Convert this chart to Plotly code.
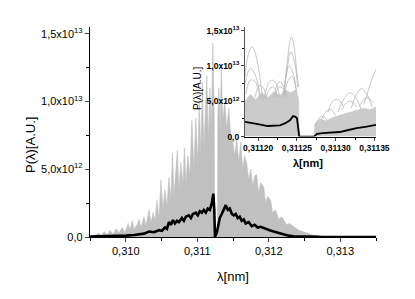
import plotly.graph_objects as go

# ---------------- main panel data (P in units of 1e13) ----------------
env_lam = [0.309488, 0.309558, 0.309628, 0.309656, 0.309697, 0.309739, 0.309781, 0.309823,
           0.309865, 0.309907, 0.309948, 0.309990, 0.310032, 0.310060, 0.310088, 0.310116,
           0.310158, 0.310185, 0.310213, 0.310255, 0.310283, 0.310325, 0.310353, 0.310381,
           0.310409, 0.310437, 0.310464, 0.310492, 0.310520, 0.310548, 0.310576, 0.310604,
           0.310632, 0.310653, 0.310674, 0.310702, 0.310722, 0.310743, 0.310771, 0.310799,
           0.310820, 0.310841, 0.310869, 0.310897, 0.310925, 0.310953, 0.310980, 0.311008,
           0.311029, 0.311050, 0.311071, 0.311092, 0.311113, 0.311134, 0.311155, 0.311176,
           0.311197, 0.311218, 0.311238, 0.311241, 0.311284, 0.311288, 0.311301, 0.311322,
           0.311336, 0.311357, 0.311385, 0.311413, 0.311441, 0.311469, 0.311497, 0.311524,
           0.311552, 0.311580, 0.311608, 0.311636, 0.311664, 0.311692, 0.311720, 0.311748,
           0.311776, 0.311803, 0.311831, 0.311859, 0.311887, 0.311929, 0.311957, 0.311985,
           0.312026, 0.312054, 0.312096, 0.312138, 0.312180, 0.312208, 0.312250, 0.312291,
           0.312347, 0.312417, 0.312473, 0.312529, 0.312612, 0.312696, 0.312766, 0.312835,
           0.313500]
env_val = [0.0, 0.01, 0.03, 0.01, 0.04, 0.015, 0.05, 0.02,
           0.06, 0.03, 0.07, 0.03, 0.10, 0.05, 0.12, 0.06,
           0.09, 0.13, 0.07, 0.15, 0.08, 0.20, 0.10, 0.18,
           0.12, 0.27, 0.14, 0.42, 0.20, 0.35, 0.22, 0.44,
           0.28, 0.62, 0.30, 0.50, 0.64, 0.35, 0.55, 0.38,
           0.66, 0.40, 0.60, 0.45, 0.86, 0.50, 0.88, 0.55,
           0.99, 0.60, 1.14, 0.65, 0.91, 1.19, 0.70, 1.10,
           0.80, 1.43, 0.90, 0.0, 0.0, 0.90, 1.10, 0.80,
           1.27, 0.85, 1.00, 0.80, 0.95, 0.75, 0.70, 0.60,
           0.72, 0.55, 0.70, 0.50, 0.60, 0.54, 0.42, 0.50,
           0.38, 0.45, 0.46, 0.32, 0.40, 0.37, 0.25, 0.30,
           0.27, 0.18, 0.20, 0.13, 0.15, 0.125, 0.09, 0.10,
           0.076, 0.05, 0.04, 0.03, 0.015, 0.01, 0.003, 0.0,
           0.0]

mean_lam = [0.309488, 0.309628, 0.309767, 0.309907, 0.310004, 0.310116, 0.310185, 0.310255,
            0.310325, 0.310395, 0.310464, 0.310506, 0.310548, 0.310576, 0.310604, 0.310632,
            0.310660, 0.310688, 0.310715, 0.310743, 0.310785, 0.310813, 0.310841, 0.310883,
            0.310911, 0.310939, 0.310980, 0.311008, 0.311036, 0.311064, 0.311092, 0.311120,
            0.311148, 0.311176, 0.311204, 0.311225, 0.311238, 0.311248, 0.311273, 0.311294,
            0.311315, 0.311343, 0.311371, 0.311399, 0.311427, 0.311455, 0.311483, 0.311510,
            0.311538, 0.311566, 0.311594, 0.311622, 0.311650, 0.311678, 0.311720, 0.311762,
            0.311803, 0.311845, 0.311887, 0.311929, 0.311971, 0.312012, 0.312068, 0.312138,
            0.312208, 0.312278, 0.312347, 0.312487, 0.312696, 0.313500]
mean_val = [0.003, 0.004, 0.006, 0.008, 0.010, 0.015, 0.020, 0.025,
            0.040, 0.035, 0.050, 0.045, 0.070, 0.060, 0.110, 0.090,
            0.125, 0.100, 0.120, 0.110, 0.140, 0.120, 0.150, 0.160,
            0.140, 0.170, 0.180, 0.160, 0.190, 0.180, 0.200, 0.180,
            0.210, 0.200, 0.250, 0.320, 0.200, 0.0, 0.030, 0.100,
            0.140, 0.170, 0.200, 0.235, 0.200, 0.210, 0.170, 0.160,
            0.170, 0.140, 0.150, 0.120, 0.130, 0.100, 0.110, 0.080,
            0.090, 0.070, 0.075, 0.065, 0.060, 0.050, 0.040, 0.030,
            0.018, 0.010, 0.006, 0.003, 0.001, 0.0]

# ---------------- inset data ----------------
in_env_lam = [0.311183, 0.311190, 0.311197, 0.311205, 0.311212, 0.311220, 0.311228, 0.311235,
              0.311242, 0.311248, 0.311252, 0.311253, 0.311272, 0.311273, 0.311280, 0.311288,
              0.311296, 0.311305, 0.311313, 0.311320, 0.311328, 0.311336, 0.311344, 0.311352]
in_env_val = [0.50, 0.60, 0.52, 0.62, 0.55, 0.63, 0.58, 0.66,
              0.62, 0.66, 0.55, 0.0, 0.0, 0.18, 0.25, 0.22,
              0.27, 0.30, 0.33, 0.35, 0.37, 0.40, 0.38, 0.42]

arcs = [
    ([0.311183, 0.311187, 0.311192, 0.311197, 0.311202, 0.311206], [0.85, 1.15, 1.27, 1.15, 0.85, 0.50]),
    ([0.311183, 0.311190, 0.311197, 0.311203], [0.75, 0.97, 0.85, 0.55]),
    ([0.311184, 0.311190, 0.311196, 0.311202], [0.60, 0.80, 0.78, 0.55]),
    ([0.311196, 0.311201, 0.311206, 0.311211], [0.55, 0.72, 0.70, 0.52]),
    ([0.311208, 0.311213, 0.311218, 0.311223, 0.311228], [0.55, 0.75, 0.80, 0.75, 0.55]),
    ([0.311210, 0.311215, 0.311220, 0.311225], [0.55, 0.68, 0.70, 0.56]),
    ([0.311220, 0.311224, 0.311228, 0.311232, 0.311236], [0.55, 0.72, 0.78, 0.72, 0.55]),
    ([0.311222, 0.311227, 0.311232, 0.311237], [0.60, 0.70, 0.68, 0.58]),
    ([0.311234, 0.311238, 0.311241, 0.311243, 0.311246, 0.311249, 0.311252], [0.70, 1.10, 1.35, 1.41, 1.30, 1.00, 0.70]),
    ([0.311233, 0.311238, 0.311242, 0.311247, 0.311251], [0.60, 1.00, 1.20, 1.05, 0.70]),
    ([0.311232, 0.311236, 0.311240, 0.311245, 0.311250], [0.55, 0.85, 1.00, 0.90, 0.60]),
    ([0.311234, 0.311239, 0.311244, 0.311249], [0.60, 0.80, 0.85, 0.65]),
    ([0.311274, 0.311279, 0.311284, 0.311290], [0.15, 0.27, 0.28, 0.22]),
    ([0.311282, 0.311288, 0.311294, 0.311300], [0.25, 0.36, 0.38, 0.30]),
    ([0.311290, 0.311296, 0.311302, 0.311310], [0.35, 0.50, 0.53, 0.42]),
    ([0.311303, 0.311310, 0.311318, 0.311326, 0.311333], [0.35, 0.52, 0.62, 0.55, 0.38]),
    ([0.311308, 0.311314, 0.311320, 0.311327], [0.38, 0.48, 0.50, 0.42]),
    ([0.311320, 0.311327, 0.311333, 0.311340, 0.311347], [0.40, 0.60, 0.68, 0.60, 0.42]),
    ([0.311330, 0.311336, 0.311342, 0.311348], [0.42, 0.52, 0.55, 0.48]),
    ([0.311336, 0.311342, 0.311347, 0.311352], [0.45, 0.65, 0.82, 0.95]),
]

in_mean_lam = [0.311183, 0.311189, 0.311194, 0.311203, 0.311212, 0.311220, 0.311228, 0.311235,
               0.311241, 0.311245, 0.311248, 0.311250, 0.311252, 0.311253, 0.311272, 0.311276,
               0.311283, 0.311295, 0.311305, 0.311315, 0.311327, 0.311340, 0.311352]
in_mean_val = [0.21, 0.20, 0.19, 0.17, 0.15, 0.155, 0.16, 0.19,
               0.23, 0.29, 0.28, 0.26, 0.10, 0.0, 0.0, 0.04,
               0.05, 0.06, 0.065, 0.09, 0.12, 0.14, 0.165]

# ticks
main_xticks = [0.310, 0.311, 0.312, 0.313]
main_xticktext = ["0,310", "0,311", "0,312", "0,313"]
main_xminor = [0.3095, 0.3105, 0.3115, 0.3125, 0.3135]
yticks = [0, 0.5, 1.0, 1.5]
yticktext = ["0,0", "5,0x10<sup>12</sup>", "1,0x10<sup>13</sup>", "1,5x10<sup>13</sup>"]
yminor = [0.25, 0.75, 1.25]
in_xticks = [0.31120, 0.31125, 0.31130, 0.31135]
in_xticktext = ["0,31120", "0,31125", "0,31130", "0,31135"]
in_xminor = [0.311225, 0.311275, 0.311325]

main_xrange = [0.3095, 0.3135]
yrange = [0, 1.55]
in_xrange = [0.311183, 0.311352]

GREY = "#c0c0c0"
fig = go.Figure()
fig.add_trace(go.Scatter(x=env_lam, y=env_val, mode="lines", line=dict(width=0.6, color=GREY),
                         fill="tozeroy", fillcolor=GREY, xaxis="x", yaxis="y", hoverinfo="skip"))
fig.add_trace(go.Scatter(x=mean_lam, y=mean_val, mode="lines", line=dict(width=2.6, color="black"),
                         xaxis="x", yaxis="y"))

# inset: white background panel spanning the inset axes ranges
fig.add_trace(go.Scatter(x=[in_xrange[0], in_xrange[1], in_xrange[1], in_xrange[0], in_xrange[0]],
                         y=[yrange[0], yrange[0], yrange[1], yrange[1], yrange[0]],
                         mode="lines", line=dict(width=0), fill="toself", fillcolor="white",
                         xaxis="x2", yaxis="y2", hoverinfo="skip"))
fig.add_trace(go.Scatter(x=in_env_lam, y=in_env_val, mode="lines", line=dict(width=0.6, color="#c8c8c8"),
                         fill="tozeroy", fillcolor="#cbcbcb", xaxis="x2", yaxis="y2"))
for ax, ay in arcs:
    fig.add_trace(go.Scatter(x=ax, y=ay, mode="lines", line=dict(width=0.8, color="#b8b8b8", shape="spline"),
                             xaxis="x2", yaxis="y2"))
fig.add_trace(go.Scatter(x=in_mean_lam, y=in_mean_val, mode="lines", line=dict(width=1.8, color="black"),
                         xaxis="x2", yaxis="y2"))

FONT = "Liberation Sans, Arial, sans-serif"
# the page body adds an 8px offset, compensated in the margins
fig.update_layout(
    width=415, height=299, autosize=False,
    margin=dict(l=82, r=47, t=19, b=70),
    paper_bgcolor="white", plot_bgcolor="white",
    showlegend=False,
    font=dict(family=FONT, color="black", size=11),
    xaxis=dict(domain=[0, 1], range=main_xrange, tickmode="array", tickvals=main_xticks,
               ticktext=main_xticktext, ticks="outside", ticklen=4, tickwidth=1, showline=True,
               linecolor="black", linewidth=1.3, showgrid=False, zeroline=False, automargin=False,
               minor=dict(tickvals=main_xminor, ticks="outside", ticklen=2.5, tickcolor="black"),
               title=dict(text="λ[nm]", font=dict(size=13)), anchor="y"),
    yaxis=dict(domain=[0, 1], range=yrange, tickmode="array", tickvals=yticks, ticktext=yticktext,
               ticks="outside", ticklen=4, tickwidth=1, showline=True, linecolor="black",
               linewidth=1.3, showgrid=False, zeroline=False, automargin=False,
               minor=dict(tickvals=yminor, ticks="outside", ticklen=2.5, tickcolor="black"),
               anchor="x"),
    xaxis2=dict(domain=[0.542, 1], range=in_xrange, tickmode="array", tickvals=in_xticks,
                ticktext=in_xticktext, ticks="outside", ticklen=3, showline=True, linecolor="black",
                linewidth=1, showgrid=False, zeroline=False, anchor="y2", automargin=False,
                tickfont=dict(size=8.5, family=FONT, weight="bold"),
                minor=dict(tickvals=in_xminor, ticks="outside", ticklen=2, tickcolor="black")),
    yaxis2=dict(domain=[0.478, 1], range=yrange, tickmode="array", tickvals=yticks, ticktext=yticktext,
                ticks="outside", ticklen=3, showline=True, linecolor="#555555", linewidth=1.2,
                showgrid=False, zeroline=False, anchor="x2", automargin=False,
                tickfont=dict(size=8.5, family=FONT, weight="bold"),
                minor=dict(tickvals=yminor, ticks="outside", ticklen=2, tickcolor="black")),
    annotations=[
        dict(text="P(λ)[A.U.]", xref="paper", yref="paper", x=-0.21, y=0.438, textangle=-90,
             showarrow=False, font=dict(size=13), xanchor="center", yanchor="middle"),
        dict(text="λ[nm]", xref="paper", yref="paper", x=0.762, y=0.352,
             showarrow=False, font=dict(size=11, weight="bold"), xanchor="center", yanchor="middle"),
        dict(text="P(λ)[A.U.]", xref="paper", yref="paper", x=0.378, y=0.71, textangle=-90,
             showarrow=False, font=dict(size=10), xanchor="center", yanchor="middle"),
    ],
)
fig.write_html("out.html")
